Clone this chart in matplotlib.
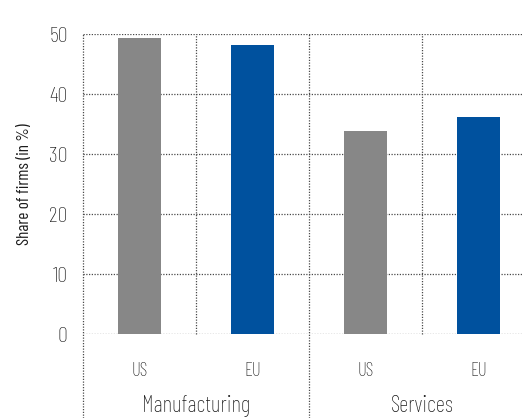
import matplotlib.pyplot as plt
import matplotlib.transforms as mtransforms

sectors = ["Manufacturing", "Services"]
regions = ["US", "EU", "US", "EU"]
shares = [49.3, 48.2, 33.8, 36.2]
bar_colors = ["#878787", "#00519e", "#878787", "#00519e"]
y_ticks = [0, 10, 20, 30, 40, 50]

plt.rcParams["font.family"] = ["Barlow Condensed", "DejaVu Sans"]
plt.rcParams["font.weight"] = "light"

fig = plt.figure(figsize=(5.23, 4.18), dpi=100)
ax = fig.add_axes([83 / 523, 84 / 418, 452 / 523, 300 / 418])

xpos = [i + 0.5 for i in range(len(shares))]
ax.bar(xpos, shares, width=0.38, color=bar_colors, zorder=3)

ax.set_xlim(0, 4)
ax.set_ylim(0, 50)
for s in ax.spines.values():
    s.set_visible(False)

# dotted grid; the sector divider and left edge run down past the labels
grid_kw = dict(color="#4a4a4a", linestyle=(0, (1, 1.2)), linewidth=0.9)
for y in y_ticks:
    ax.axhline(y, zorder=1, **grid_kw)
trans = mtransforms.blended_transform_factory(ax.transData, ax.transAxes)
for x in [0, 1, 2, 3]:
    low = -0.28 if x in (0, 2) else 0
    ax.plot([x, x], [low, 1], transform=trans, clip_on=False, zorder=1, **grid_kw)

ax.set_yticks(y_ticks)
ax.set_yticklabels([str(v) for v in y_ticks], fontsize=16, color="#1a1a1a")
ax.tick_params(axis="y", length=0, pad=11)
ax.set_xticks([])

for x, r in zip(xpos, regions):
    ax.text(x, -0.122, r, transform=trans, ha="center", va="center",
            fontsize=13.5, color="#1a1a1a")
for x, s in zip([1, 3], sectors):
    ax.text(x, -0.24, s, transform=trans, ha="center", va="center",
            fontsize=16.5, color="#1a1a1a")

ax.set_ylabel("Share of firms (in %)", fontsize=12.3, color="#1a1a1a", labelpad=12)

fig.savefig("out.png", dpi=100)
